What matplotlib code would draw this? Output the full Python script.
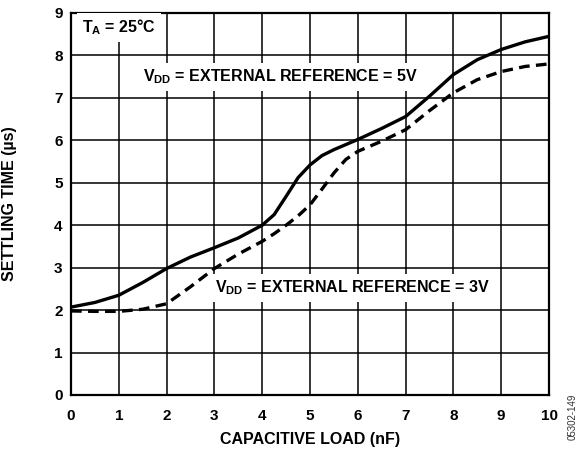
import numpy as np
import matplotlib.pyplot as plt

plt.rcParams['font.family'] = ['Liberation Sans', 'DejaVu Sans']
plt.rcParams['mathtext.fontset'] = 'custom'
plt.rcParams['mathtext.rm'] = 'Liberation Sans'
plt.rcParams['mathtext.bf'] = 'Liberation Sans:bold'

# settling time vs capacitive load
load_nf = [0, 0.5, 1, 1.5, 2, 2.5, 3, 3.5, 4, 4.25, 4.5, 4.75, 5, 5.25, 5.5,
           5.75, 6, 6.5, 7, 7.5, 8, 8.5, 9, 9.5, 10]
t_5v = [2.07, 2.18, 2.35, 2.65, 2.98, 3.25, 3.47, 3.7, 4.0, 4.25, 4.68, 5.12,
        5.42, 5.64, 5.78, 5.9, 6.02, 6.28, 6.56, 7.04, 7.55, 7.9, 8.14, 8.32, 8.45]
t_3v = [1.98, 1.97, 1.97, 2.02, 2.15, 2.55, 2.98, 3.32, 3.62, 3.8, 4.0, 4.22,
        4.48, 4.85, 5.23, 5.55, 5.74, 5.98, 6.25, 6.7, 7.12, 7.43, 7.62, 7.74, 7.8]

x_ticks = list(range(0, 11))
y_ticks = list(range(0, 10))

fig = plt.figure(figsize=(5.85, 4.51), dpi=100)
ax = fig.add_axes([0.1214, 0.1242, 0.8171, 0.847])

ax.plot(load_nf, t_5v, color='black', lw=2.4, solid_joinstyle='round', zorder=3)
ax.plot(load_nf, t_3v, color='black', lw=2.4, dashes=(3.2, 1.9), zorder=3)

ax.set_xlim(0, 10)
ax.set_ylim(0, 9)
ax.set_xticks(x_ticks)
ax.set_yticks(y_ticks)
ax.grid(True, color='black', lw=1.1)
ax.tick_params(length=0, labelsize=11)
ax.tick_params(axis='x', pad=10)
ax.tick_params(axis='y', pad=6)
for lbl in ax.get_xticklabels() + ax.get_yticklabels():
    lbl.set_fontweight('bold')
for sp in ax.spines.values():
    sp.set_linewidth(1.6)

ax.set_xlabel('CAPACITIVE LOAD (nF)', fontsize=11.5, fontweight='bold')
ax.set_ylabel('SETTLING TIME (µs)', fontsize=11.5, fontweight='bold')
ax.xaxis.set_label_coords(0.5, -0.097)
ax.yaxis.set_label_coords(-0.113, 0.5)

box = dict(facecolor='white', edgecolor='none', pad=3.5)
ax.text(0.23, 8.66, r'T$_\mathbf{A}$ = 25°C', fontsize=11.5, fontweight='bold',
        va='center', ha='left', bbox=box, zorder=4)
ax.text(1.5, 7.5, r'V$_\mathbf{DD}$ = EXTERNAL REFERENCE = 5V', fontsize=11.5,
        fontweight='bold', va='center', ha='left', bbox=box, zorder=4)
ax.text(3.01, 2.52, r'V$_\mathbf{DD}$ = EXTERNAL REFERENCE = 3V', fontsize=11.5,
        fontweight='bold', va='center', ha='left', bbox=box, zorder=4)

fig.text(0.979, 0.024, '05302-149', rotation=90, fontsize=7, color='#333333',
         ha='center', va='bottom')

fig.savefig('out.png', dpi=100)
